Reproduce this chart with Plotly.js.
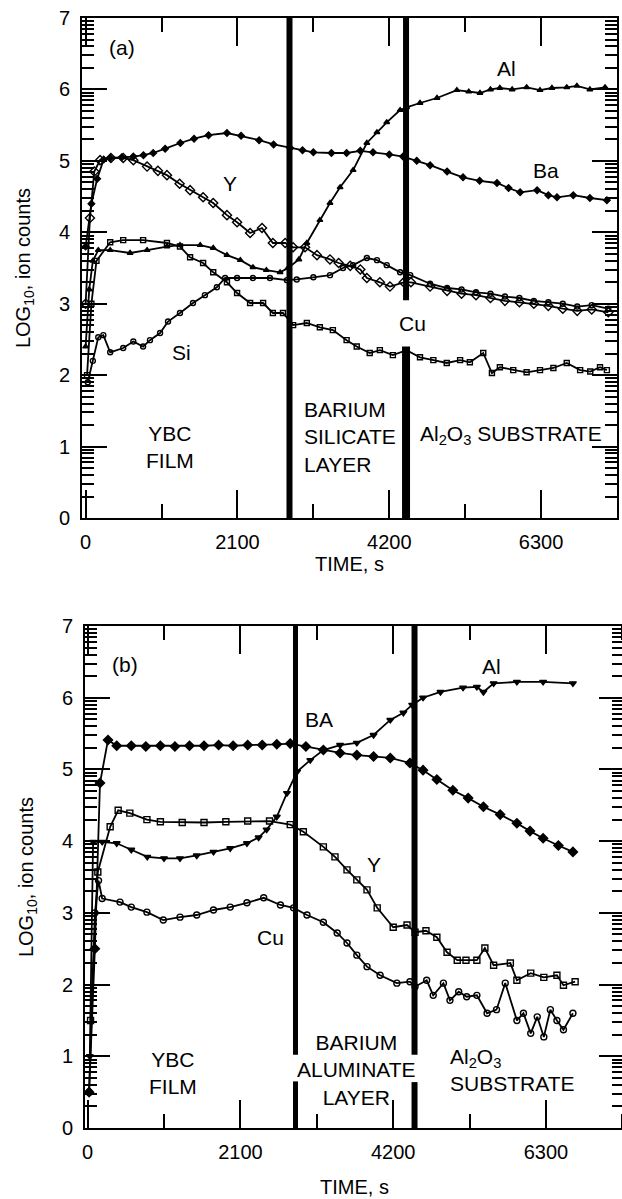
<!DOCTYPE html>
<html>
<head>
<meta charset="utf-8">
<script src="https://cdn.plot.ly/plotly-3.0.1.min.js"></script>
<style>
html,body{margin:0;padding:0;overflow:hidden;background:#fff;}
#chart{width:630px;height:1199px;}
</style>
</head>
<body>
<div id="chart"></div>
<script>
// ---------- Panel (a) data ----------
const baA_t = [0, 80, 160, 250, 340, 500, 660, 800, 935, 1100, 1310, 1500, 1700, 1955, 2150, 2400, 2600, 2830, 3000, 3150, 3400, 3610, 3800, 3975, 4200, 4390, 4580, 4765, 5000, 5220, 5450, 5690, 5850, 6010, 6245, 6400, 6520, 6745, 6975, 7210];
const baA_v = [3.8, 4.4, 4.75, 5.02, 5.04, 5.05, 5.06, 5.08, 5.11, 5.17, 5.25, 5.31, 5.36, 5.39, 5.35, 5.29, 5.23, 5.18, 5.15, 5.12, 5.11, 5.11, 5.14, 5.12, 5.09, 5.06, 5.0, 4.94, 4.85, 4.77, 4.72, 4.69, 4.62, 4.56, 4.59, 4.52, 4.49, 4.52, 4.48, 4.45];

const yA_t = [0, 60, 120, 200, 350, 520, 660, 850, 1000, 1125, 1300, 1445, 1625, 1765, 1955, 2095, 2275, 2440, 2590, 2760, 2870, 3035, 3200, 3380, 3500, 3660, 3800, 3890, 4070, 4210, 4400, 4500, 4765, 5000, 5200, 5400, 5600, 5800, 6000, 6200, 6400, 6600, 6800, 7000, 7230];
const yA_v = [3.0, 4.2, 4.85, 5.01, 5.04, 5.04, 5.01, 4.92, 4.86, 4.8, 4.68, 4.59, 4.49, 4.41, 4.24, 4.14, 3.99, 4.06, 3.85, 3.85, 3.79, 3.79, 3.68, 3.62, 3.57, 3.53, 3.48, 3.36, 3.3, 3.24, 3.3, 3.3, 3.24, 3.18, 3.14, 3.12, 3.08, 3.04, 3.02, 3.0, 2.97, 2.93, 2.9, 2.92, 2.88];

const alA_t = [0, 50, 100, 175, 340, 615, 850, 1125, 1305, 1585, 1765, 1955, 2140, 2315, 2500, 2690, 2800, 2950, 3060, 3240, 3380, 3520, 3700, 3890, 4030, 4165, 4350, 4440, 4625, 4860, 5135, 5300, 5455, 5600, 5730, 5900, 6100, 6285, 6450, 6655, 6795, 6975, 7185];
const alA_v = [2.4, 3.2, 3.6, 3.75, 3.75, 3.71, 3.75, 3.8, 3.82, 3.82, 3.78, 3.68, 3.61, 3.51, 3.47, 3.44, 3.5, 3.62, 3.85, 4.17, 4.41, 4.63, 4.87, 5.25, 5.4, 5.54, 5.71, 5.75, 5.81, 5.88, 5.99, 5.97, 5.95, 6.0, 6.02, 6.0, 6.03, 5.99, 6.02, 6.03, 6.05, 6.0, 6.03];

const cuA_t = [20, 80, 150, 340, 520, 795, 1125, 1305, 1445, 1625, 1765, 1955, 2095, 2275, 2455, 2590, 2730, 2870, 3060, 3240, 3420, 3610, 3750, 3930, 4070, 4250, 4440, 4625, 4810, 4995, 5180, 5315, 5500, 5620, 5730, 5915, 6100, 6285, 6470, 6655, 6840, 6980, 7115, 7210];
const cuA_v = [2.0, 3.0, 3.6, 3.86, 3.89, 3.89, 3.85, 3.8, 3.65, 3.57, 3.44, 3.3, 3.15, 3.01, 3.01, 2.87, 2.87, 2.7, 2.73, 2.67, 2.63, 2.49, 2.4, 2.31, 2.35, 2.28, 2.35, 2.25, 2.21, 2.17, 2.21, 2.18, 2.31, 2.03, 2.11, 2.07, 2.04, 2.07, 2.1, 2.17, 2.07, 2.05, 2.11, 2.07];

const siA_t = [30, 100, 175, 245, 340, 520, 660, 795, 890, 1030, 1140, 1305, 1485, 1650, 1815, 1930, 2095, 2315, 2550, 2785, 2920, 3150, 3380, 3560, 3700, 3890, 4030, 4165, 4350, 4490, 4765, 5000, 5200, 5400, 5600, 5800, 6000, 6200, 6400, 6600, 6800, 7000, 7230];
const siA_v = [1.9, 2.2, 2.53, 2.56, 2.32, 2.38, 2.47, 2.4, 2.49, 2.59, 2.75, 2.87, 3.01, 3.12, 3.23, 3.36, 3.36, 3.36, 3.36, 3.33, 3.34, 3.37, 3.4, 3.5, 3.54, 3.64, 3.61, 3.54, 3.44, 3.4, 3.28, 3.22, 3.2, 3.16, 3.14, 3.1, 3.08, 3.04, 3.02, 3.0, 2.96, 2.98, 2.93];

// ---------- Panel (b) data ----------
const baB_t = [20, 100, 170, 280, 400, 600, 800, 1000, 1200, 1400, 1600, 1800, 2000, 2200, 2400, 2600, 2785, 3000, 3240, 3470, 3700, 3930, 4160, 4430, 4610, 4800, 5020, 5230, 5440, 5670, 5900, 6080, 6260, 6470, 6670];
const baB_v = [0.5, 2.5, 4.81, 5.41, 5.33, 5.33, 5.32, 5.33, 5.32, 5.33, 5.33, 5.34, 5.33, 5.34, 5.34, 5.35, 5.36, 5.32, 5.27, 5.23, 5.2, 5.18, 5.16, 5.09, 4.99, 4.86, 4.71, 4.6, 4.48, 4.37, 4.25, 4.14, 4.04, 3.94, 3.85];

const alB_t = [30, 75, 200, 400, 600, 820, 1050, 1270, 1500, 1730, 1960, 2190, 2350, 2460, 2600, 2740, 2880, 3060, 3240, 3470, 3700, 3930, 4160, 4340, 4460, 4610, 4850, 5160, 5350, 5440, 5580, 5900, 6260, 6670];
const alB_v = [1.0, 3.99, 3.99, 3.97, 3.88, 3.78, 3.76, 3.76, 3.8, 3.85, 3.9, 3.97, 4.05, 4.16, 4.34, 4.67, 4.97, 5.13, 5.27, 5.34, 5.37, 5.48, 5.69, 5.79, 5.9, 6.0, 6.08, 6.14, 6.15, 6.08, 6.2, 6.22, 6.22, 6.2];

const yB_t = [40, 140, 310, 420, 580, 815, 1000, 1300, 1600, 1900, 2200, 2500, 2785, 2965, 3240, 3400, 3565, 3700, 3840, 3980, 4200, 4390, 4500, 4650, 4800, 4940, 5080, 5200, 5350, 5460, 5580, 5810, 5900, 6090, 6270, 6450, 6540, 6700];
const yB_v = [1.5, 3.57, 4.2, 4.43, 4.39, 4.3, 4.27, 4.26, 4.26, 4.27, 4.28, 4.28, 4.23, 4.13, 3.92, 3.78, 3.6, 3.46, 3.32, 3.07, 2.8, 2.83, 2.73, 2.75, 2.66, 2.45, 2.34, 2.34, 2.34, 2.51, 2.27, 2.3, 2.06, 2.16, 2.1, 2.13, 1.99, 2.04];

const cuB_t = [20, 100, 150, 200, 445, 600, 815, 1040, 1270, 1500, 1730, 1960, 2190, 2420, 2650, 2830, 3015, 3240, 3430, 3565, 3700, 3840, 4020, 4250, 4430, 4500, 4660, 4750, 4890, 4980, 5100, 5210, 5350, 5490, 5620, 5740, 5900, 5990, 6090, 6180, 6270, 6360, 6450, 6540, 6670];
const cuB_v = [0.5, 3.0, 3.45, 3.2, 3.15, 3.08, 3.01, 2.9, 2.94, 2.97, 3.04, 3.08, 3.14, 3.21, 3.11, 3.07, 2.97, 2.87, 2.72, 2.58, 2.41, 2.25, 2.13, 2.02, 2.04, 1.97, 2.06, 1.85, 2.02, 1.78, 1.9, 1.83, 1.85, 1.6, 1.65, 2.02, 1.5, 1.6, 1.32, 1.55, 1.27, 1.65, 1.5, 1.37, 1.6];

// layer boundaries (s)
const boundA = [2820, 4432];
const boundB = [2857, 4493];

// tick labels
const xTickVals = [0, 2100, 4200, 6300];
const xTickText = ['0', '2100', '4200', '6300'];
const yTickVals = [0, 1, 2, 3, 4, 5, 6, 7];

// ---------- build ----------
const FONT = 'Liberation Sans, Arial, Helvetica, sans-serif';
function tr(t, v, sym, size, xa, ya, name) {
  return {
    x: t, y: v, type: 'scatter', mode: 'lines+markers', name: name,
    xaxis: xa, yaxis: ya, showlegend: false,
    line: {color: '#000', width: 1.8},
    marker: {symbol: sym, size: size, color: '#000',
             line: {color: '#000', width: 1.4}},
    hoverinfo: 'x+y+name'
  };
}
const data = [
  tr(baA_t, baA_v, 'diamond', 5, 'x', 'y', 'Ba'),
  tr(yA_t, yA_v, 'diamond-open', 7, 'x', 'y', 'Y'),
  tr(alA_t, alA_v, 'triangle-up', 5, 'x', 'y', 'Al'),
  tr(cuA_t, cuA_v, 'square-open', 5, 'x', 'y', 'Cu'),
  tr(siA_t, siA_v, 'circle-open', 5, 'x', 'y', 'Si'),
  tr(baB_t, baB_v, 'diamond', 7, 'x2', 'y2', 'Ba'),
  tr(alB_t, alB_v, 'triangle-down', 6, 'x2', 'y2', 'Al'),
  tr(yB_t, yB_v, 'square-open', 6, 'x2', 'y2', 'Y'),
  tr(cuB_t, cuB_v, 'circle-open', 6, 'x2', 'y2', 'Cu')
];

const logMinor = [];
for (let n = 0; n < 7; n++) for (let k = 2; k <= 9; k++) logMinor.push(n + Math.log10(k));

function xAxis(domain, range, anchor, standoff) {
  return {
    domain: domain, range: range, anchor: anchor,
    showgrid: false, zeroline: false,
    showline: true, linecolor: '#000', linewidth: 2, mirror: 'ticks',
    ticks: 'inside', ticklen: 28, tickwidth: 2, tickcolor: '#000',
    tickmode: 'array', tickvals: xTickVals, ticktext: xTickText,
    ticklabelstandoff: 5,
    minor: {ticks: 'inside', ticklen: 14, tickwidth: 2, tickcolor: '#000', dtick: 1050, tick0: 0, showgrid: false},
    tickfont: {family: FONT, size: 20, color: '#000'},
    title: {text: 'TIME, s', font: {family: FONT, size: 20, color: '#000'}, standoff: standoff}
  };
}
function yAxis(domain, anchor) {
  return {
    domain: domain, range: [0, 7], anchor: anchor,
    showgrid: false, zeroline: false,
    showline: true, linecolor: '#000', linewidth: 2, mirror: 'ticks',
    ticks: 'inside', ticklen: 25, tickwidth: 2, tickcolor: '#000',
    tickmode: 'array', tickvals: yTickVals,
    ticklabelstandoff: 6,
    minor: {ticks: 'inside', ticklen: 12, tickwidth: 2, tickcolor: '#000', tickmode: 'array', tickvals: logMinor, showgrid: false},
    tickfont: {family: FONT, size: 20, color: '#000'},
    title: {text: 'LOG<sub>10</sub>, ion counts', font: {family: FONT, size: 20, color: '#000'}, standoff: 23}
  };
}

function vline(xref, yref, x, y0, y1, w) {
  return {type: 'line', xref: xref, yref: yref, x0: x, x1: x, y0: y0, y1: y1,
          line: {color: '#000', width: w}};
}
const shapes = [
  vline('x', 'y', boundA[0], 0, 7, 6),
  vline('x', 'y', boundA[1], 3.05, 7, 6),
  vline('x', 'y', boundA[1], 0, 2.4, 8),
  vline('x2', 'y2', boundB[0], 1.02, 7, 5),
  vline('x2', 'y2', boundB[0], 0, 0.65, 5),
  vline('x2', 'y2', boundB[1], 1.02, 7, 6),
  vline('x2', 'y2', boundB[1], 0, 0.64, 6)
];

function ann(xref, yref, x, y, text, xanchor, align) {
  return {xref: xref, yref: yref, x: x, y: y, text: text, showarrow: false,
          xanchor: xanchor || 'center', yanchor: 'middle', align: align || 'center',
          font: {family: FONT, size: 21, color: '#000'}};
}
const annotations = [
  ann('x', 'y', 503, 6.58, '(a)'),
  ann('x', 'y', 2000, 4.69, 'Y'),
  ann('x', 'y', 5815, 6.29, 'Al'),
  ann('x', 'y', 6368, 4.87, 'Ba'),
  ann('x', 'y', 4528, 2.73, 'Cu'),
  ann('x', 'y', 1320, 2.32, 'Si'),
  ann('x', 'y', 1168, 0.99, 'YBC<br>FILM'),
  ann('x', 'y', 2994, 1.13, 'BARIUM<br>SILICATE<br>LAYER', 'left', 'left'),
  ann('x', 'y', 4598, 1.16, 'Al<sub>2</sub>O<sub>3</sub> SUBSTRATE', 'left', 'left'),
  ann('x2', 'y2', 514, 6.47, '(b)'),
  ann('x2', 'y2', 3181, 5.69, 'BA'),
  ann('x2', 'y2', 5544, 6.44, 'Al'),
  ann('x2', 'y2', 3936, 3.67, 'Y'),
  ann('x2', 'y2', 2507, 2.65, 'Cu'),
  ann('x2', 'y2', 1176, 0.77, 'YBC<br>FILM'),
  ann('x2', 'y2', 3689, 0.81, 'BARIUM<br>ALUMINATE<br>LAYER'),
  ann('x2', 'y2', 4955, 0.81, 'Al<sub>2</sub>O<sub>3</sub><br>SUBSTRATE', 'left', 'left')
];

const W = 630, H = 1199;
const layout = {
  width: W, height: H,
  margin: {l: 0, r: 0, t: 0, b: 0},
  paper_bgcolor: '#fff', plot_bgcolor: '#fff',
  font: {family: FONT, color: '#000'},
  showlegend: false,
  xaxis: xAxis([82 / W, 617 / W], [-50, 7350], 'y', 5),
  yaxis: yAxis([(H - 518) / H, (H - 18) / H], 'x'),
  xaxis2: xAxis([85 / W, 624 / W], [-36, 7372], 'y2', 18),
  yaxis2: yAxis([(H - 1128) / H, (H - 626) / H], 'x2'),
  shapes: shapes,
  annotations: annotations
};

Plotly.newPlot('chart', data, layout, {displayModeBar: false, responsive: false});
</script>
</body>
</html>
